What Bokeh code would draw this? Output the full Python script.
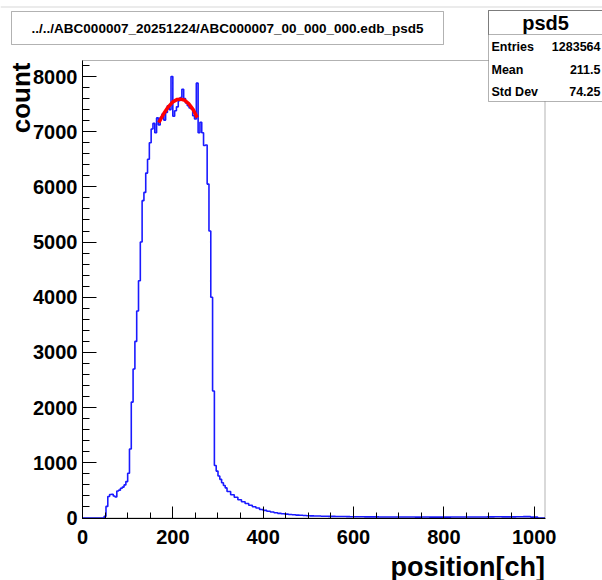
import numpy as np
from bokeh.plotting import figure
from bokeh.models import Range1d, BoxAnnotation, Label, FixedTicker, ColumnDataSource, LinearAxis
from bokeh.embed import file_html
from bokeh.resources import INLINE

# ---- data ----
title_text = "../../ABC000007_20251224/ABC000007_00_000_000.edb_psd5"
hist_name = "psd5"
stats_names = ["Entries", "Mean", "Std Dev"]
stats_values = ["1283564", "211.5", "74.25"]

x_min, x_max = 0, 1024
y_min, y_max = 0, 8290

# 4-channel bins from 40 to 320
core_start, core_width = 40, 4
core_counts = [0, 0, 30, 210, 390, 425, 430, 400, 380, 490, 505, 540, 560, 600, 660, 810,
               1250, 2100, 2700, 3200, 3750, 4300, 5000, 5750, 5900, 6250, 6500, 6800,
               7050, 7150, 6980, 7250, 7120, 7260, 7320, 7210, 7350, 7470, 7400, 8000,
               7280, 7380, 7450, 7560, 7620, 7770, 7600, 7520, 7470, 7430, 7410, 7290,
               7230, 7880, 6980, 7170, 6980, 6750, 6760, 6050, 5200, 4000, 2300, 950,
               850, 760, 700, 640, 590, 545]
# 8-channel bins from 320 to 640
mid_start, mid_width = 320, 8
mid_counts = [480, 420, 375, 330, 295, 262, 230, 205, 180, 155, 138, 122, 108, 95, 84, 76,
              70, 63, 58, 53, 49, 45, 42, 39, 37, 35, 33, 32, 30, 29, 28, 27, 26, 25, 24,
              23, 23, 22, 21, 21]
# 16-channel bins from 640 to 1024
far_start, far_width = 640, 16
far_counts = [20, 19, 18, 18, 17, 17, 16, 17, 16, 16, 16, 17, 18, 18, 17, 19, 20, 22,
              20, 21, 22, 25, 15, 0]

# fit curve
fit_x = [169, 180, 190, 200, 210, 217, 225, 235, 245, 254]
fit_y = [7165, 7330, 7450, 7540, 7585, 7590, 7575, 7510, 7400, 7255]

x_major = [0, 200, 400, 600, 800, 1000]
y_major = [0, 1000, 2000, 3000, 4000, 5000, 6000, 7000, 8000]

# ---- build step outline ----
edges = [x_min, core_start]
edges += [core_start + core_width * (i + 1) for i in range(len(core_counts))]
edges += [mid_start + mid_width * (i + 1) for i in range(len(mid_counts))]
edges += [far_start + far_width * (i + 1) for i in range(len(far_counts))]
counts = [0] + core_counts + mid_counts + far_counts
sx = np.repeat(np.array(edges, dtype=float), 2)[1:-1]
sy = np.repeat(np.array(counts, dtype=float), 2)
hist_src = ColumnDataSource(dict(x=sx, y=sy))
fit_src = ColumnDataSource(dict(x=fit_x, y=fit_y))

# ---- layout: frame covers the whole canvas, axes at fixed locations ----
W, H = 602, 580
FL, FR, FT, FB = 82.0, 544.5, 60.0, 517.5   # where the histogram frame sits (canvas px)
kx = (FR - FL) / (x_max - x_min)
ky = (FB - FT) / (y_max - y_min)
xr = Range1d(x_min - FL / kx, x_max + (W - FR) / kx)
yr = Range1d(y_min - (H - FB) / ky, y_max + FT / ky)

p = figure(width=W, height=H, output_backend="svg", toolbar_location=None,
           x_range=xr, y_range=yr, x_axis_location=None, y_axis_location=None,
           min_border=0, min_border_left=0, min_border_right=0,
           min_border_top=0, min_border_bottom=0)
p.background_fill_color = "white"
p.border_fill_color = "white"
p.outline_line_color = None
p.xgrid.visible = False
p.ygrid.visible = False

FONT = "Liberation Sans"
xaxis = LinearAxis(fixed_location=0, bounds=(x_min, x_max))
yaxis = LinearAxis(fixed_location=0, bounds=(y_min, y_max))
for ax in (xaxis, yaxis):
    ax.axis_line_color = "black"
    ax.axis_line_width = 1
    ax.major_tick_line_color = "black"
    ax.minor_tick_line_color = "black"
    ax.major_tick_out = 0
    ax.minor_tick_out = 0
    ax.major_label_text_font = FONT
    ax.major_label_text_font_style = "bold"
    ax.major_label_text_font_size = "20px"
    ax.major_label_text_color = "black"
xaxis.ticker = FixedTicker(ticks=x_major, minor_ticks=list(np.arange(0, 1001, 50)))
yaxis.ticker = FixedTicker(ticks=y_major, minor_ticks=list(np.arange(0, 8201, 200)))
xaxis.major_tick_in = 12
xaxis.minor_tick_in = 6
yaxis.major_tick_in = 14
yaxis.minor_tick_in = 7
xaxis.major_label_standoff = 12
yaxis.major_label_standoff = 5
p.add_layout(xaxis, "below")
p.add_layout(yaxis, "left")

p.line("x", "y", source=hist_src, line_color="#1a1aff", line_width=1.6)
p.line("x", "y", source=fit_src, line_color="#ff0000", line_width=3.5)

# frame border
p.add_layout(BoxAnnotation(left=x_min, right=x_max, bottom=y_min, top=y_max,
                           fill_alpha=0, line_color="black", line_width=1))

# window edge line at very top
p.add_layout(BoxAnnotation(left=0, right=W, top=6, bottom=7,
                           left_units="canvas", right_units="canvas",
                           top_units="canvas", bottom_units="canvas",
                           fill_color="#d8d8d8", fill_alpha=1, line_alpha=0))

# axis titles
p.add_layout(Label(x=FR, y=566, x_units="canvas", y_units="canvas", text="position[ch]",
                   text_font=FONT, text_font_style="bold", text_font_size="27px",
                   text_align="right", text_baseline="middle", text_color="black"))
p.add_layout(Label(x=20, y=FT + 2, x_units="canvas", y_units="canvas", text="count",
                   angle=np.pi / 2, text_font=FONT, text_font_style="bold",
                   text_font_size="26px", text_align="right", text_baseline="middle",
                   text_color="black"))

# title box
p.add_layout(BoxAnnotation(left=11, right=443, top=11, bottom=44,
                           left_units="canvas", right_units="canvas",
                           top_units="canvas", bottom_units="canvas",
                           fill_color="white", fill_alpha=1, line_color="black", line_width=1))
p.add_layout(Label(x=227, y=27.5, x_units="canvas", y_units="canvas", text=title_text,
                   text_font=FONT, text_font_style="bold", text_font_size="13.5px",
                   text_align="center", text_baseline="middle", text_color="black"))

# stats box
p.add_layout(BoxAnnotation(left=488, right=640, top=10, bottom=101,
                           left_units="canvas", right_units="canvas",
                           top_units="canvas", bottom_units="canvas",
                           fill_color="white", fill_alpha=1, line_color="black", line_width=1))
p.add_layout(BoxAnnotation(left=488, right=640, top=10, bottom=34,
                           left_units="canvas", right_units="canvas",
                           top_units="canvas", bottom_units="canvas",
                           fill_alpha=0, line_color="black", line_width=1))
p.add_layout(Label(x=545, y=22, x_units="canvas", y_units="canvas", text=hist_name,
                   text_font=FONT, text_font_style="bold", text_font_size="20px",
                   text_align="center", text_baseline="middle", text_color="black"))
row_y = [46, 69, 91]
for name, val, yy in zip(stats_names, stats_values, row_y):
    p.add_layout(Label(x=491, y=yy, x_units="canvas", y_units="canvas", text=name,
                       text_font=FONT, text_font_style="bold", text_font_size="12.5px",
                       text_align="left", text_baseline="middle", text_color="black"))
    p.add_layout(Label(x=600, y=yy, x_units="canvas", y_units="canvas", text=val,
                       text_font=FONT, text_font_style="bold", text_font_size="12.5px",
                       text_align="right", text_baseline="middle", text_color="black"))

open("out.html", "w").write(file_html(p, INLINE))
